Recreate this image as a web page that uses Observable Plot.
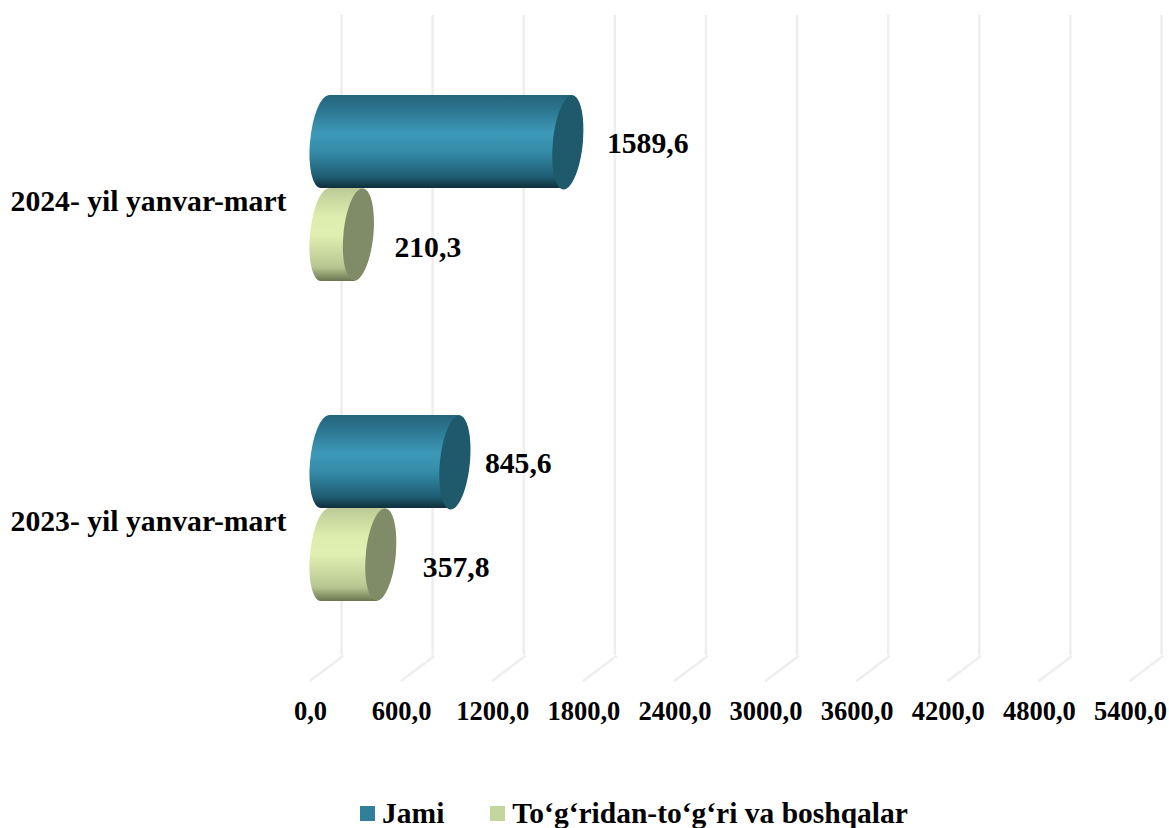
<!DOCTYPE html>
<html><head><meta charset="utf-8">
<script src="https://cdn.jsdelivr.net/npm/d3@7"></script>
<script src="https://cdn.jsdelivr.net/npm/@observablehq/plot@0.6"></script>
<style>
html,body{margin:0;padding:0;background:#fff;overflow:hidden}
#legend{display:flex;justify-content:center;align-items:center;font:bold 29.5px "Liberation Serif",serif;color:#000;height:38px;margin-left:145px;position:relative;top:4px}
#legend span.k{display:inline-block;width:15px;height:15px;margin-right:7px}
#legend .item{display:flex;align-items:center;margin-right:46px}
</style></head><body>
<div id="chart"></div>
<div id="legend"></div>
<script>
const categories = ["2024- yil yanvar-mart", "2023- yil yanvar-mart"];
const jami = [1589.6, 845.6];
const boshqa = [210.3, 357.8];
const ticks = [0,600,1200,1800,2400,3000,3600,4200,4800,5400];
const seriesNames = ["Jami", "To‘g‘ridan-to‘g‘ri va boshqalar"];
const seriesColors = ["#31809b", "#c3d69b"];

const fmt = v => v.toFixed(1).replace(".", ",");
const rowsJ = categories.map((c,i)=>({c, v:jami[i]}));
const rowsB = categories.map((c,i)=>({c, v:boshqa[i]}));
const FONT = "Liberation Serif";

const SHEAR = 0.09;
const ellipse = (rx, ry) => ({draw(ctx){
  const k = 0.5523;
  const P = (x,y) => [x - SHEAR*y, y];
  const C = (a,b,c,d,e,f) => ctx.bezierCurveTo(...P(a,b),...P(c,d),...P(e,f));
  ctx.moveTo(...P(rx,0));
  C(rx,k*ry,k*rx,ry,0,ry);
  C(-k*rx,ry,-rx,k*ry,-rx,0);
  C(-rx,-k*ry,-k*rx,-ry,0,-ry);
  C(k*rx,-ry,rx,-k*ry,rx,0);
  ctx.closePath();
}});
const line = {draw(ctx,l){ctx.moveTo(0,0);ctx.lineTo(0,-l);}};
const skew = (index, scales, values, dims, context, next) => {
  const g = next(index, scales, values, dims, context);
  d3.select(g).selectAll("rect")
    .style("transform-box","fill-box").style("transform-origin","center").style("transform","skewX(-5.1deg)");
  return g;
};

const defs = () => {
  const g = d3.create("svg:defs");
  g.html(`<linearGradient id="gj" x1="0" x2="0" y1="0" y2="1">
    <stop offset="0" stop-color="#25647a"/><stop offset="0.15" stop-color="#2b7590"/>
    <stop offset="0.42" stop-color="#3d9ab8"/><stop offset="0.62" stop-color="#338aa6"/>
    <stop offset="0.88" stop-color="#1f5c72"/><stop offset="1" stop-color="#0f2f3a"/></linearGradient>
  <linearGradient id="gb" x1="0" x2="0" y1="0" y2="1">
    <stop offset="0" stop-color="#bccb95"/><stop offset="0.3" stop-color="#dcedae"/>
    <stop offset="0.5" stop-color="#e0f0b2"/><stop offset="0.85" stop-color="#b6c690"/>
    <stop offset="1" stop-color="#6b7650"/></linearGradient>`);
  return g.node();
};

const labelOffsets = {J:[55,46], B:[52,58]};
const GRID = "#eeeeee";

const plot = Plot.plot({
  width:1169, height:790,
  marginLeft:310, marginRight:39, marginTop:28, marginBottom:122,
  x:{domain:[0,5400], axis:null},
  y:{domain:categories, padding:0, axis:null},
  style:{background:"#fff", overflow:"visible"},
  marks:[
    defs,
    Plot.ruleX(ticks, {x:d=>d, dx:31, dy:-13, stroke:GRID, strokeWidth:2.5}),
    Plot.vector(ticks, {x:d=>d, dx:0, frameAnchor:"bottom", dy:12, anchor:"start", shape:line, length:40, rotate:53, stroke:GRID, strokeWidth:2.5}),
    Plot.text(ticks, {x:d=>d, text:fmt, frameAnchor:"bottom", dy:51, fontSize:26.5, fontWeight:"bold", fontFamily:FONT, fill:"#000"}),
    Plot.text(categories, {y:d=>d, text:d=>d, frameAnchor:"left", textAnchor:"end", dx:-24, dy:13, fontSize:29.7, fontWeight:"bold", fontFamily:FONT, fill:"#000"}),
    Plot.barX(rowsB, {x1:()=>0, x2:"v", y:"c", fill:"url(#gb)", rx:15, ry:46, insetTop:160, insetBottom:67, insetRight:-31, render:skew}),
    Plot.dot(rowsB, {x:"v", y:"c", dx:16, dy:46, r:10, symbol:ellipse(15,46), fill:"#808c68", stroke:"none"}),
    Plot.barX(rowsJ, {x1:()=>0, x2:"v", y:"c", fill:"url(#gj)", rx:15, ry:47, insetTop:67, insetBottom:160, insetRight:-31, render:skew}),
    Plot.dot(rowsJ, {x:"v", y:"c", dx:16, dy:-46, r:10, symbol:ellipse(15,47), fill:"#1f5a6c", stroke:"none"}),
    ...rowsJ.map((r,i)=>Plot.text([r], {x:"v", y:"c", text:d=>fmt(d.v), textAnchor:"start", dx:labelOffsets.J[i], dy:-45, fontSize:29.7, fontWeight:"bold", fontFamily:FONT, fill:"#000"})),
    ...rowsB.map((r,i)=>Plot.text([r], {x:"v", y:"c", text:d=>fmt(d.v), textAnchor:"start", dx:labelOffsets.B[i], dy:59, fontSize:29.7, fontWeight:"bold", fontFamily:FONT, fill:"#000"}))
  ]
});
document.getElementById("chart").appendChild(plot);
const lg = document.getElementById("legend");
seriesNames.forEach((n,i)=>{
  const it=document.createElement("div");it.className="item";
  const k=document.createElement("span");k.className="k";k.style.background=seriesColors[i];
  const t=document.createElement("span");t.textContent=n;
  it.append(k,t);lg.append(it);
});
</script></body></html>
